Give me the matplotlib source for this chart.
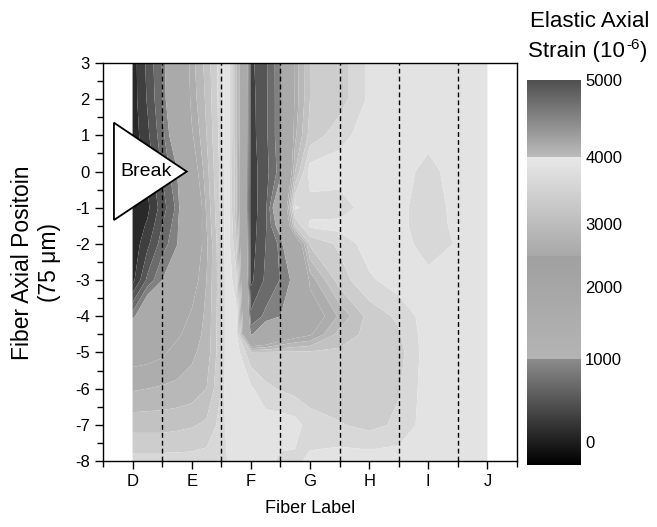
import numpy as np
import matplotlib
matplotlib.use('Agg')
import matplotlib.pyplot as plt
from matplotlib.colors import LinearSegmentedColormap, FuncNorm
from matplotlib.cm import ScalarMappable
from matplotlib.patches import Polygon

plt.rcParams['font.family'] = ['Liberation Sans', 'DejaVu Sans']
plt.rcParams['axes.unicode_minus'] = False

# fiber positions (D=0 ... J=6), axial positions (units of 75 um)
fiber_pos = [0, 0.25, 0.5, 0.75, 1.0, 1.25, 1.5, 1.6, 1.75, 2.0,
             2.25, 2.5, 2.75, 3.0, 3.5, 4.0, 4.5, 5.0, 5.5, 6.0]
axial_pos = [3, 2, 1, 0, -1, -1.5, -2, -3, -4, -4.5, -5, -6, -7, -8]
fiber_labels = ['D', 'E', 'F', 'G', 'H', 'I', 'J']

# elastic axial strain (1e-6), one row per axial position (top to bottom)
strain = [
    [100, 450, 810, 1780, 2650, 3100, 3650, 3950, 3150, 350, 560, 950, 2630, 3250, 3380, 3800, 3900, 3900, 3900, 3900],
    [100, 420, 790, 1650, 2600, 3050, 3650, 3950, 3150, 330, 550, 950, 2600, 3250, 3380, 3800, 3900, 3900, 3900, 3900],
    [80, 350, 720, 1300, 2450, 3000, 3630, 3950, 3150, 320, 550, 950, 2700, 3350, 3650, 3900, 3900, 3850, 3900, 3900],
    [50, 250, 620, 980, 2200, 2900, 3600, 3950, 3100, 300, 520, 900, 3000, 3880, 3900, 3900, 3880, 3650, 3900, 3900],
    [50, 150, 500, 850, 1800, 2800, 3580, 3950, 3100, 280, 550, 1500, 3800, 3650, 3600, 3900, 3850, 3550, 3880, 3900],
    [55, 230, 600, 920, 1950, 2750, 3550, 3950, 3200, 290, 570, 1200, 3300, 3800, 3850, 3900, 3850, 3550, 3850, 3900],
    [60, 345, 700, 955, 2070, 2685, 3500, 3950, 3300, 300, 600, 850, 1900, 3300, 3550, 3900, 3900, 3600, 3780, 3900],
    [130, 650, 1000, 2000, 2300, 2750, 3450, 3950, 3600, 350, 640, 810, 1100, 2600, 3380, 3700, 3900, 3850, 3900, 3900],
    [900, 1500, 1900, 2300, 2550, 2800, 3450, 3950, 3850, 650, 850, 1000, 2000, 2200, 2800, 3350, 3550, 3900, 3900, 3900],
    [1600, 1950, 2200, 2450, 2620, 2820, 3450, 3950, 3900, 950, 1400, 2000, 2300, 2450, 3100, 3330, 3470, 3900, 3900, 3900],
    [2350, 2380, 2450, 2600, 2700, 2850, 3450, 3950, 3900, 3300, 3300, 3300, 3300, 3300, 3300, 3300, 3400, 3900, 3900, 3900],
    [2720, 2750, 2780, 2800, 2850, 3000, 3500, 3950, 3900, 3800, 3550, 3480, 3400, 3350, 3350, 3350, 3480, 3900, 3900, 3900],
    [3150, 3150, 3150, 3180, 3220, 3300, 3600, 3850, 3900, 3900, 3900, 3900, 3850, 3630, 3520, 3420, 3550, 3900, 3900, 3900],
    [3600, 3600, 3600, 3600, 3600, 3620, 3680, 3750, 3850, 3900, 3850, 3700, 3700, 3800, 3900, 3900, 3900, 3900, 3900, 3900],
]

levels = [0, 200, 400, 600, 800, 1000, 2500, 2750, 3000, 3250, 3500,
          3750, 4000, 4200, 4400, 4600, 4800, 5000]
cbar_ticks = [0, 1000, 2000, 3000, 4000, 5000]

# colour scale is not linear: strain value -> fraction of the bar height
bar_vals = [-280, 0, 1000, 2000, 3000, 4000, 5000]
bar_fracs = [0, 0.06, 0.275, 0.462, 0.626, 0.80, 1.0]
fwd = lambda v: np.interp(v, bar_vals, bar_fracs)
inv = lambda f: np.interp(f, bar_fracs, bar_vals)
norm = FuncNorm((fwd, inv), vmin=bar_vals[0], vmax=bar_vals[-1])

f1, f2, f3 = fwd(1000), fwd(2500), fwd(4000)
g = [(0.0, 0.0, 0.0),
     (f1, 140/255, 180/255),
     (f2, 160/255, 168/255),
     (f3, 232/255, 188/255),
     (1.0, 79/255, 79/255)]
cmap = LinearSegmentedColormap('strain', {'red': g, 'green': g, 'blue': g}, N=1024)

W, H = 657, 527
fig = plt.figure(figsize=(W/100, H/100), dpi=100)
ax = fig.add_axes([103/W, 1 - 461/H, 414/W, 398/H])

z = np.array(strain)[::-1]
yy = np.array(axial_pos)[::-1]
ax.contourf(fiber_pos, yy, z, levels=levels, cmap=cmap, norm=norm, antialiased=True)

for xv in np.arange(0.5, 6, 1):
    ax.axvline(xv, color='k', ls=(0, (3.5, 2.2)), lw=1.0, zorder=3)

tri = Polygon([(-0.315, 1.35), (-0.315, -1.34), (0.915, 0.0)], closed=True,
              fc='white', ec='black', lw=1.3, zorder=5)
ax.add_patch(tri)
ax.text(0.22, 0.0, 'Break', ha='center', va='center', fontsize=14, zorder=6)

ax.set_xlim(-0.5, 6.5)
ax.set_ylim(-8, 3)
ax.set_xticks(range(7))
ax.set_xticklabels(fiber_labels)
ax.set_xticks(np.arange(-0.5, 7, 1), minor=True)
ax.set_yticks(range(-8, 4))
ax.set_yticks(np.arange(-7.5, 3, 1), minor=True)
ax.tick_params(which='both', direction='out', width=1, labelsize=12)
ax.tick_params(which='major', length=6)
ax.tick_params(which='minor', length=4)
for s in ax.spines.values():
    s.set_linewidth(1.0)
ax.set_xlabel('Fiber Label', fontsize=13, labelpad=8)
fig.text(36/W, 1 - 263/H, 'Fiber Axial Positoin\n(75 \u03bcm)', rotation=90,
         ha='center', va='center', multialignment='center', fontsize=16.5, linespacing=1.2)

cax = fig.add_axes([527/W, 1 - 465/H, 54/W, 385/H])
cb = fig.colorbar(ScalarMappable(norm=norm, cmap=cmap), cax=cax, ticks=cbar_ticks)
cb.outline.set_visible(False)
cax.tick_params(length=0, labelsize=12, pad=3)

# colour bar title, superscript built from separate texts (keeps a plain hyphen)
fig.text(530/W, 1 - 27/H, 'Elastic Axial', ha='left', va='baseline', fontsize=16)
base = 1 - 57/H
t1 = fig.text(528/W, base, 'Strain (10', ha='left', va='baseline', fontsize=16)
r = fig.canvas.get_renderer()
x1 = t1.get_window_extent(renderer=r).x1
t2 = fig.text(x1/W + 0.002, base + 8/H, '-6', ha='left', va='baseline', fontsize=11)
x2 = t2.get_window_extent(renderer=r).x1
fig.text(x2/W + 0.001, base, ')', ha='left', va='baseline', fontsize=16)

plt.savefig('out.png', dpi=100)
